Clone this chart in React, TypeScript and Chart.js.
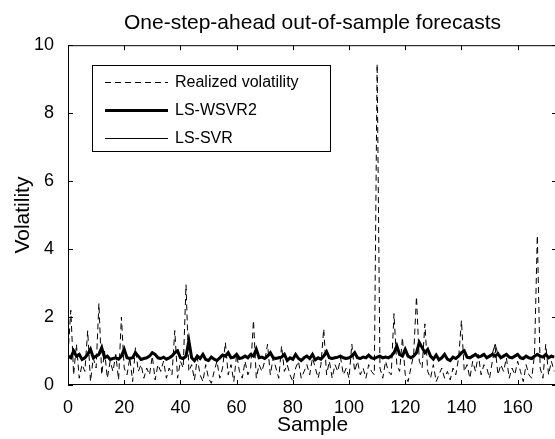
import { useEffect, useRef } from "react";
import { Chart, registerables } from "chart.js";

Chart.register(...registerables);

const TITLE = "One-step-ahead out-of-sample forecasts";
const X_LABEL = "Sample";
const Y_LABEL = "Volatility";
const SERIES_NAMES = ["Realized volatility", "LS-WSVR2", "LS-SVR"];
const X_MIN = 0;
const X_MAX = 174;
const X_STEP = 20;
const Y_MIN = 0;
const Y_MAX = 10;
const Y_STEP = 2;

const realized = [
  0.9, 2.2, 0.3, 1.2, 0.2, 0.6, 0.4, 1.6, 0.1, 0.8,
  0.5, 2.4, 0.3, 1.0, 0.2, 0.7, 0.4, 0.9, 0.15, 2.0,
  0.5, 0.3, 0.8, 0.1, 1.1, 0.4, 0.6, 0.2, 0.5, 0.3,
  0.85, 0.15, 0.6, 0.4, 0.7, 0.2, 0.5, 0.3, 1.6, 0.2,
  0.7, 0.5, 2.95, 0.4, 0.6, 0.15, 0.8, 0.3, 0.1, 0.6,
  0.2, 0.05, 0.4, 0.7, 0.2, 0.5, 1.25, 0.3, 0.6, 0.1,
  0.9, 0.4, 0.2, 0.7, 0.3, 0.5, 1.9, 0.2, 0.6, 0.4,
  0.7, 1.2, 0.3, 0.8, 0.5, 0.2, 1.15, 0.4, 0.6, 0.3,
  0.1, 0.5, 0.7, 0.2, 0.4, 0.6, 0.3, 0.8, 0.5, 0.2,
  0.6, 1.65, 0.3, 0.7, 0.2, 0.6, 0.4, 0.8, 0.3, 0.5,
  0.2, 1.2, 0.4, 0.7, 0.3, 0.5, 0.2, 0.6, 0.4, 0.3,
  9.45, 0.5, 0.2, 0.7, 0.4, 0.3, 2.1, 0.6, 0.4, 1.4,
  0.3, 0.1, 0.5, 0.9, 2.6, 0.7, 0.5, 1.8, 0.4, 0.2,
  0.6, 0.1, 0.3, 0.5, 0.2, 0.4, 0.15, 0.5, 0.3, 0.8,
  1.9, 0.4, 0.6, 0.2, 0.7, 0.4, 0.9, 0.3, 0.6, 0.5,
  0.2, 0.7, 1.1, 0.3, 0.6, 0.4, 0.8, 0.2, 0.5, 0.3,
  0.7, 0.4, 0.1, 0.6, 0.3, 0.2, 0.9, 4.4, 0.5, 0.2,
  1.2, 0.3, 0.7, 0.4,
];

const lsWsvr2 = [
  0.85, 0.8, 1.0, 0.85, 0.9, 0.75, 0.8, 0.9, 1.05, 0.8,
  0.85, 0.9, 1.1, 0.8, 0.85, 0.75, 0.78, 0.8, 0.76, 0.85,
  1.05, 0.8, 0.78, 0.8, 0.95, 0.85, 0.75, 0.78, 0.8, 0.85,
  0.95, 0.9, 0.8, 0.78, 0.82, 0.76, 0.8, 0.85, 0.95, 1.0,
  0.8, 0.78, 0.85, 1.3, 0.8, 0.72, 0.85, 0.78, 0.9, 0.75,
  0.72, 0.82, 0.76, 0.72, 0.8, 0.88, 0.85, 0.95, 0.8, 0.82,
  0.9, 0.78, 0.8, 0.85, 0.8, 0.9, 0.85, 1.05, 0.8, 0.82,
  0.78, 0.85, 0.95, 0.8, 0.78, 0.8, 0.82, 0.9, 0.72, 0.8,
  0.76, 0.9, 0.78, 0.72, 0.8, 0.85, 0.78, 0.9, 0.74, 0.8,
  0.76, 0.85, 0.98, 0.8, 0.78, 0.8, 0.82, 0.85, 0.8, 0.78,
  0.8, 0.85, 0.95, 0.8, 0.78, 0.82, 0.8, 0.88, 0.8, 0.78,
  0.82, 0.85, 0.8, 0.82, 0.8, 0.85, 0.95, 1.15, 0.9, 0.85,
  1.05, 0.85, 0.8, 0.85, 0.95, 1.25, 1.1, 0.95, 1.05, 0.85,
  0.76, 0.88, 0.74, 0.8, 0.9, 0.76, 0.72, 0.82, 0.78, 0.85,
  0.95, 1.0, 0.82, 0.8, 0.85, 0.9, 0.82, 0.85, 0.9, 0.8,
  0.85, 0.9, 0.85, 0.92, 0.8, 0.85, 0.9, 0.82, 0.8, 0.85,
  0.9, 0.8, 0.78, 0.85, 0.8, 0.78, 0.85, 0.9, 0.85, 0.82,
  0.9, 0.8, 0.85, 0.82,
];

const lsSvr = [
  0.88, 0.78, 1.05, 0.82, 0.92, 0.72, 0.78, 0.95, 1.1, 0.78,
  0.82, 0.95, 1.15, 0.78, 0.88, 0.72, 0.8, 0.78, 0.74, 0.88,
  1.1, 0.78, 0.76, 0.82, 0.98, 0.82, 0.72, 0.8, 0.78, 0.88,
  0.98, 0.88, 0.78, 0.76, 0.85, 0.74, 0.82, 0.88, 0.98, 1.05,
  0.78, 0.76, 0.88, 1.35, 0.78, 0.7, 0.88, 0.76, 0.93, 0.73,
  0.7, 0.85, 0.74, 0.7, 0.82, 0.9, 0.88, 0.98, 0.78, 0.84,
  0.93, 0.76, 0.82, 0.88, 0.78, 0.92, 0.83, 1.1, 0.78, 0.84,
  0.76, 0.88, 0.98, 0.78, 0.76, 0.82, 0.8, 0.93, 0.7, 0.82,
  0.74, 0.93, 0.76, 0.7, 0.82, 0.88, 0.76, 0.93, 0.72, 0.82,
  0.74, 0.88, 1.02, 0.78, 0.76, 0.82, 0.8, 0.88, 0.78, 0.76,
  0.82, 0.88, 0.98, 0.78, 0.76, 0.84, 0.78, 0.9, 0.78, 0.76,
  0.84, 0.88, 0.78, 0.84, 0.78, 0.88, 0.98, 1.2, 0.88, 0.88,
  1.1, 0.82, 0.78, 0.88, 0.98, 1.3, 1.12, 0.92, 1.08, 0.82,
  0.74, 0.9, 0.72, 0.82, 0.93, 0.74, 0.7, 0.84, 0.76, 0.88,
  0.98, 1.05, 0.8, 0.78, 0.88, 0.93, 0.8, 0.88, 0.93, 0.78,
  0.88, 0.93, 1.2, 0.9, 0.78, 0.88, 0.93, 0.8, 0.78, 0.88,
  0.93, 0.78, 0.76, 0.88, 0.78, 0.76, 0.88, 0.93, 0.88, 0.8,
  0.93, 0.78, 0.88, 0.8,
];

const FONT = "'Liberation Sans', Arial, sans-serif";

const toPoints = (arr: number[]) => arr.map((v, i) => ({ x: i, y: v }));

const framePlugin = {
  id: "matlabFrame",
  afterDraw(chart: any) {
    const { ctx, chartArea } = chart;
    const { left, right, top, bottom } = chartArea;
    const xs = chart.scales.x;
    const ys = chart.scales.y;
    ctx.save();
    ctx.strokeStyle = "#000";
    ctx.lineWidth = 1;
    ctx.beginPath();
    ctx.rect(left + 0.5, top + 0.5, right - left - 1, bottom - top - 1);
    ctx.stroke();
    const len = 5;
    ctx.beginPath();
    xs.ticks.forEach((t: any) => {
      const px = Math.round(xs.getPixelForValue(t.value)) + 0.5;
      ctx.moveTo(px, bottom);
      ctx.lineTo(px, bottom - len);
      ctx.moveTo(px, top);
      ctx.lineTo(px, top + len);
    });
    ys.ticks.forEach((t: any) => {
      const py = Math.round(ys.getPixelForValue(t.value)) + 0.5;
      ctx.moveTo(left, py);
      ctx.lineTo(left + len, py);
      ctx.moveTo(right, py);
      ctx.lineTo(right - len, py);
    });
    ctx.stroke();
    ctx.restore();
  },
};

const legendPlugin = {
  id: "matlabLegend",
  afterDraw(chart: any) {
    const { ctx } = chart;
    const bx = 92, by = 65, bw = 238, bh = 86;
    ctx.save();
    ctx.fillStyle = "#fff";
    ctx.fillRect(bx, by, bw, bh);
    ctx.strokeStyle = "#000";
    ctx.lineWidth = 1;
    ctx.strokeRect(bx + 0.5, by + 0.5, bw, bh);
    const rows = [82, 110, 138];
    chart.data.datasets.forEach((ds: any, i: number) => {
      const y = rows[i] + 0.5;
      ctx.beginPath();
      ctx.setLineDash(ds.borderDash || []);
      ctx.lineWidth = ds.borderWidth;
      ctx.strokeStyle = ds.borderColor;
      ctx.moveTo(105, y);
      ctx.lineTo(168, y);
      ctx.stroke();
      ctx.setLineDash([]);
      ctx.fillStyle = "#000";
      ctx.font = `16px ${FONT}`;
      ctx.textBaseline = "middle";
      ctx.textAlign = "left";
      ctx.fillText(ds.label, 175, rows[i] + 1);
    });
    ctx.restore();
  },
};

export default function App() {
  const ref = useRef<HTMLCanvasElement | null>(null);

  useEffect(() => {
    if (!ref.current) return;
    const chart = new Chart(ref.current, {
      type: "line",
      data: {
        datasets: [
          {
            label: SERIES_NAMES[0],
            data: toPoints(realized),
            borderColor: "#000",
            borderWidth: 1,
            borderDash: [6, 4],
            pointRadius: 0,
            tension: 0,
            order: 3,
          },
          {
            label: SERIES_NAMES[1],
            data: toPoints(lsWsvr2),
            borderColor: "#000",
            borderWidth: 3,
            pointRadius: 0,
            tension: 0,
            order: 2,
          },
          {
            label: SERIES_NAMES[2],
            data: toPoints(lsSvr),
            borderColor: "#000",
            borderWidth: 1,
            pointRadius: 0,
            tension: 0,
            order: 1,
          },
        ],
      },
      options: {
        animation: false,
        responsive: false,
        events: [],
        layout: { padding: { top: 0, left: 0, right: 3, bottom: 0 } },
        plugins: {
          legend: { display: false },
          tooltip: { enabled: false },
          title: {
            display: true,
            text: TITLE,
            fullSize: false,
            color: "#000",
            font: { family: FONT, size: 21, weight: "normal", lineHeight: 1.2 },
            padding: { top: 11, bottom: 9 },
          },
        },
        scales: {
          x: {
            type: "linear",
            min: X_MIN,
            max: X_MAX,
            grid: { display: false },
            border: { display: false },
            ticks: {
              stepSize: X_STEP,
              includeBounds: false,
              color: "#000",
              padding: 4,
              maxRotation: 0,
              font: { family: FONT, size: 18 },
            },
            title: {
              display: true,
              text: X_LABEL,
              color: "#000",
              font: { family: FONT, size: 21, lineHeight: 1.2 },
              padding: { top: 0, bottom: 1 },
            },
            afterFit(scale: any) {
              scale.height = 54;
            },
          },
          y: {
            type: "linear",
            min: Y_MIN,
            max: Y_MAX,
            grid: { display: false },
            border: { display: false },
            ticks: {
              stepSize: Y_STEP,
              color: "#000",
              padding: 6,
              font: { family: FONT, size: 18 },
            },
            title: {
              display: true,
              text: Y_LABEL,
              color: "#000",
              font: { family: FONT, size: 21, lineHeight: 1.2 },
              padding: { top: 11, bottom: 0 },
            },
            afterFit(scale: any) {
              scale.width = 68;
            },
          },
        },
      },
      plugins: [framePlugin, legendPlugin],
    });
    return () => chart.destroy();
  }, []);

  return (
    <div
      style={{
        position: "fixed",
        left: 0,
        top: 0,
        width: 555,
        height: 439,
        overflow: "hidden",
        background: "#fff",
      }}
    >
      <canvas ref={ref} width={560} height={439} style={{ display: "block" }} />
    </div>
  );
}
